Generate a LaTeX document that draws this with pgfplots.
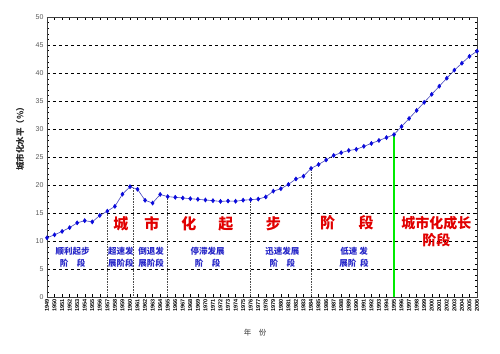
\documentclass[border=0pt]{standalone}
\usepackage{fontspec}
\setmainfont{Liberation Sans}
\newfontfamily\cjk{Noto Sans CJK SC}
\usepackage{pgfplots}
\pgfplotsset{compat=1.18}
\definecolor{ptblue}{RGB}{10,10,220}
\definecolor{lnblue}{RGB}{70,70,190}
\definecolor{txtblue}{RGB}{40,40,200}
\definecolor{txtred}{RGB}{225,0,0}
\definecolor{brightgreen}{RGB}{0,235,0}
\begin{document}
\begin{tikzpicture}[x=1pt,y=1pt]
\useasboundingbox (0,0) rectangle (500,353);
\begin{axis}[
  at={(47pt,55.5pt)}, anchor=south west,
  scale only axis, width=430pt, height=280.5pt,
  xmin=1949, xmax=2006, ymin=0, ymax=50,
  axis line style={draw=black!75, line width=0.9pt},
  ytick={0,5,...,50}, minor y tick num=4,
  xtick={1949,...,2006},
  xticklabel={\pgfmathparse{int(round(\tick))}\pgfmathresult},
  /pgf/number format/assume math mode=true,
  tick style={black, line width=0.4pt},
  major tick length=3pt, minor tick length=2pt,
  xtick align=inside, ytick align=inside,
  xticklabel style={rotate=90, anchor=east, font=\fontsize{5.6}{6}\selectfont\bfseries, inner sep=1.5pt},
  yticklabel style={font=\fontsize{7}{8}\selectfont, text=black!65},
  ymajorgrids, grid style={black, dashed, line width=0.5pt},
  clip=false,
]
\addplot[black!70, densely dotted, line width=0.6pt] coordinates {(1957,0)(1957,15.39)};
\addplot[black!70, densely dotted, line width=0.6pt] coordinates {(1960.5,0)(1960.5,19.5)};
\addplot[black!70, densely dotted, line width=0.6pt] coordinates {(1965,0)(1965,17.98)};
\addplot[black!70, densely dotted, line width=0.6pt] coordinates {(1976,0)(1976,17.44)};
\addplot[black!70, densely dotted, line width=0.6pt] coordinates {(1984,0)(1984,23.01)};
\addplot[brightgreen, line width=2.4pt] coordinates {(1995,0)(1995,29.04)};
\addplot[lnblue, line width=0.6pt, mark=diamond*, mark size=2pt,
  mark options={ptblue, fill=ptblue}] table {
x y
1949 10.64
1950 11.18
1951 11.78
1952 12.46
1953 13.31
1954 13.69
1955 13.48
1956 14.62
1957 15.39
1958 16.25
1959 18.41
1960 19.75
1961 19.29
1962 17.33
1963 16.84
1964 18.37
1965 17.98
1966 17.86
1967 17.74
1968 17.62
1969 17.50
1970 17.38
1971 17.26
1972 17.13
1973 17.20
1974 17.16
1975 17.34
1976 17.44
1977 17.55
1978 17.92
1979 18.96
1980 19.39
1981 20.16
1982 21.13
1983 21.62
1984 23.01
1985 23.71
1986 24.52
1987 25.32
1988 25.81
1989 26.21
1990 26.41
1991 26.94
1992 27.46
1993 27.99
1994 28.51
1995 29.04
1996 30.48
1997 31.91
1998 33.35
1999 34.78
2000 36.22
2001 37.66
2002 39.09
2003 40.53
2004 41.76
2005 42.99
2006 43.90
};
% red stage labels
\begin{scope}[every node/.style={text=txtred, font=\cjk\fontsize{15}{15}\selectfont\bfseries, inner sep=0pt}]
\node at (axis cs:1958.8,13.1) {城};
\node at (axis cs:1962.9,13.1) {市};
\node at (axis cs:1967.8,13.1) {化};
\node at (axis cs:1972.7,13.1) {起};
\node at (axis cs:1979.0,13.1) {步};
\node at (axis cs:1986.2,13.3) {阶};
\node at (axis cs:1991.3,13.3) {段};
\node[font=\cjk\fontsize{14}{14}\selectfont\bfseries] at (axis cs:2000.6,13.2) {城市化成长};
\node[font=\cjk\fontsize{14}{14}\selectfont\bfseries] at (axis cs:2000.6,10.2) {阶段};
\end{scope}
% blue sub-stage labels
\begin{scope}[every node/.style={text=txtblue, font=\cjk\fontsize{8.5}{9}\selectfont\bfseries, inner sep=0pt}]
\node at (axis cs:1952.4,8.3) {顺利起步};
\node at (axis cs:1952.4,6.1) {阶\quad 段};
\node at (axis cs:1958.8,8.3) {超速发};
\node at (axis cs:1958.8,6.1) {展阶段};
\node at (axis cs:1962.8,8.3) {倒退发};
\node at (axis cs:1962.8,6.1) {展阶段};
\node at (axis cs:1970.3,8.3) {停滞发展};
\node at (axis cs:1970.3,6.1) {阶\quad 段};
\node at (axis cs:1980.2,8.3) {迅速发展};
\node at (axis cs:1980.2,6.1) {阶\quad 段};
\node at (axis cs:1989.7,8.3) {低速\ 发};
\node at (axis cs:1989.7,6.1) {展阶\ \ 段};
\end{scope}
\end{axis}
\node[rotate=90, font=\cjk\fontsize{8.5}{9}\selectfont\bfseries, text=black!85] at (20,216) {城市化水平（\%）};
\node[font=\cjk\fontsize{7.5}{8}\selectfont, text=black!80] at (255,20) {年\quad 份};
\end{tikzpicture}
\end{document}
